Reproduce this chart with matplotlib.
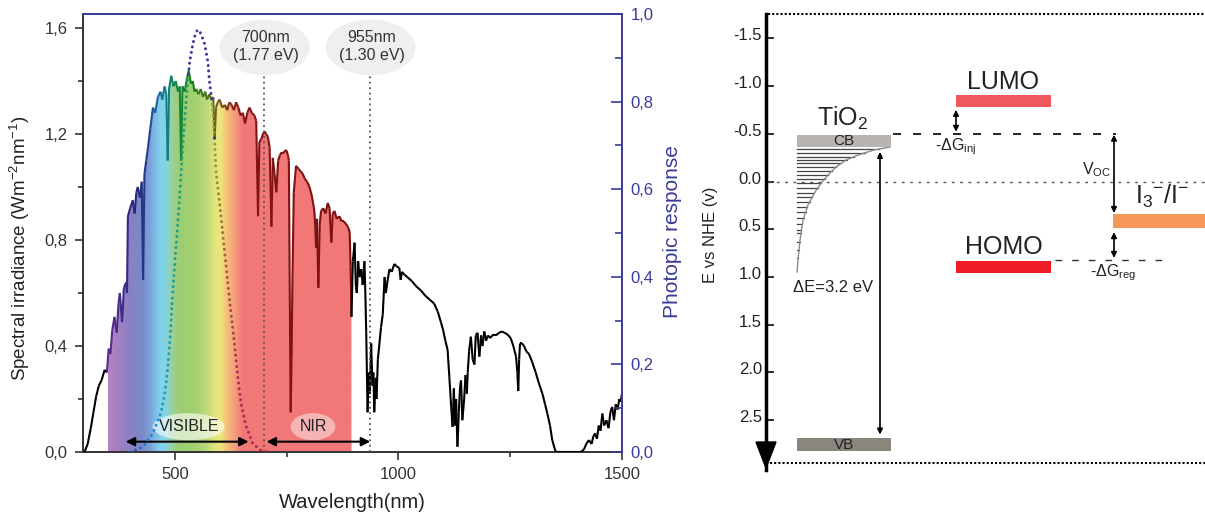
import numpy as np
import matplotlib
matplotlib.use('Agg')
import matplotlib.pyplot as plt
import matplotlib.transforms as mtransforms
from matplotlib.colors import LinearSegmentedColormap
from matplotlib.collections import LineCollection
from matplotlib.patches import Polygon, Ellipse, Rectangle

plt.rcParams['font.family'] = ['Liberation Sans', 'DejaVu Sans']
plt.rcParams['mathtext.default'] = 'regular'

# ---------------- data: solar spectrum (AM1.5) ----------------
wavelength_nm = np.array([
    298, 305, 312, 318, 324, 330, 336, 343, 348, 352,
    356, 360, 365, 370, 374, 377, 382, 386, 391, 393,
    395, 400, 406, 410, 414, 417, 422, 426, 429, 432,
    436, 440, 445, 451, 456, 462, 468, 472, 477, 481,
    484, 487, 492, 497, 502, 507, 511, 514, 517, 522,
    527, 531, 536, 540, 544, 548, 553, 558, 563, 568,
    572, 577, 582, 586, 589, 592, 596, 600, 606, 612,
    617, 622, 627, 632, 637, 642, 647, 652, 657, 662,
    667, 672, 678, 682, 686, 689, 693, 697, 701, 704,
    708, 712, 716, 719, 723, 727, 731, 735, 738, 743,
    749, 753, 755, 757, 759, 761, 763, 766, 771, 776,
    781, 786, 791, 796, 801, 806, 812, 814, 816, 818,
    821, 824, 827, 832, 837, 842, 846, 850, 853, 857,
    862, 868, 873, 878, 883, 887, 891, 893, 895, 898,
    902, 905, 907, 910, 913, 917, 920, 924, 926, 928,
    931, 934, 936, 939, 942, 944, 946, 949, 951, 954,
    957, 961, 965, 969, 972, 976, 980, 985, 991, 996,
    1002, 1005, 1008, 1013, 1020, 1030, 1040, 1050, 1060, 1070,
    1080, 1088, 1095, 1100, 1105, 1110, 1114, 1118, 1121, 1124,
    1126, 1129, 1132, 1135, 1138, 1140, 1143, 1147, 1150, 1153,
    1155, 1158, 1162, 1166, 1170, 1173, 1177, 1181, 1185, 1188,
    1192, 1196, 1200, 1205, 1210, 1218, 1225, 1232, 1237, 1243,
    1251, 1257, 1263, 1266, 1268, 1270, 1272, 1276, 1281, 1286,
    1292, 1299, 1307, 1314, 1322, 1328, 1333, 1339, 1344, 1349,
    1352, 1360, 1380, 1400, 1408, 1415, 1420, 1426, 1432, 1436,
    1440, 1444, 1448, 1452, 1456, 1460, 1465, 1470, 1474, 1478,
    1482, 1486, 1490, 1494, 1497, 1500], dtype=float)

irradiance = np.array([
    0.0, 0.03, 0.09, 0.15, 0.21, 0.25, 0.27, 0.31, 0.30, 0.39,
    0.37, 0.46, 0.51, 0.45, 0.56, 0.60, 0.49, 0.62, 0.64, 0.60,
    0.89, 0.92, 0.95, 0.90, 0.98, 1.00, 0.96, 1.02, 0.65, 1.05,
    1.10, 1.15, 1.22, 1.30, 1.28, 1.34, 1.36, 1.33, 1.38, 1.35,
    1.10, 1.37, 1.42, 1.38, 1.40, 1.36, 1.38, 1.10, 1.38, 1.36,
    1.41, 1.44, 1.39, 1.40, 1.36, 1.37, 1.35, 1.37, 1.34, 1.36,
    1.33, 1.35, 1.33, 1.34, 1.18, 1.30, 1.32, 1.33, 1.30, 1.31,
    1.29, 1.32, 1.31, 1.29, 1.32, 1.30, 1.27, 1.28, 1.24, 1.28,
    1.30, 1.28, 1.27, 1.25, 0.89, 1.17, 1.18, 1.20, 1.21, 1.20,
    1.19, 1.15, 0.85, 1.11, 1.05, 0.98, 1.10, 1.12, 1.13, 1.13,
    1.14, 1.12, 1.10, 0.60, 0.15, 0.35, 0.66, 0.98, 1.08, 1.07,
    1.06, 1.05, 1.03, 1.02, 1.00, 0.97, 0.91, 0.85, 0.77, 0.88,
    0.62, 0.86, 0.91, 0.92, 0.90, 0.94, 0.92, 0.79, 0.90, 0.91,
    0.88, 0.89, 0.87, 0.87, 0.86, 0.85, 0.83, 0.70, 0.51, 0.72,
    0.79, 0.62, 0.60, 0.72, 0.66, 0.69, 0.63, 0.72, 0.60, 0.45,
    0.15, 0.30, 0.22, 0.41, 0.25, 0.30, 0.15, 0.28, 0.20, 0.35,
    0.40, 0.47, 0.52, 0.66, 0.60, 0.65, 0.69, 0.68, 0.71, 0.70,
    0.695, 0.65, 0.68, 0.67, 0.66, 0.645, 0.625, 0.61, 0.59, 0.575,
    0.56, 0.53, 0.49, 0.46, 0.42, 0.385, 0.28, 0.17, 0.095, 0.24,
    0.10, 0.20, 0.02, 0.15, 0.25, 0.27, 0.12, 0.20, 0.29, 0.22,
    0.30, 0.38, 0.435, 0.35, 0.33, 0.44, 0.45, 0.36, 0.44, 0.40,
    0.455, 0.42, 0.44, 0.43, 0.44, 0.44, 0.45, 0.455, 0.45, 0.445,
    0.43, 0.40, 0.36, 0.30, 0.23, 0.35, 0.41, 0.41, 0.40, 0.38,
    0.37, 0.34, 0.30, 0.26, 0.22, 0.18, 0.145, 0.10, 0.045, 0.015,
    0.0, 0.0, 0.0, 0.0, 0.0, 0.01, 0.03, 0.045, 0.03, 0.06,
    0.07, 0.05, 0.10, 0.08, 0.145, 0.10, 0.12, 0.09, 0.15, 0.17,
    0.12, 0.18, 0.16, 0.20, 0.19, 0.22])

# photopic response (right axis)
photopic_wl = np.array([400, 429, 451, 469, 477, 484, 490, 494, 499, 505,
                        510, 514, 518, 525, 533, 540, 546, 551, 556, 562,
                        567, 574, 577, 583, 589, 592, 600, 607, 615, 622,
                        633, 641, 648, 659, 674, 690, 705], dtype=float)
photopic_val = np.array([0.0, 0.012, 0.043, 0.09, 0.13, 0.19, 0.27, 0.345, 0.42, 0.50,
                         0.57, 0.64, 0.70, 0.80, 0.89, 0.93, 0.955, 0.964, 0.96, 0.945,
                         0.93, 0.89, 0.85, 0.80, 0.71, 0.64, 0.57, 0.50, 0.42, 0.35,
                         0.25, 0.17, 0.11, 0.06, 0.02, 0.005, 0.0])

fill_range = (350, 895)
visible_range = (390, 665)
nir_range = (705, 937)
marker_lines = [700, 937]
marker_labels = ["700nm\n(1.77 eV)", "955nm\n(1.30 eV)"]

left_ticks = [0.0, 0.4, 0.8, 1.2, 1.6]
left_ticklabels = ['0,0', '0,4', '0,8', '1,2', '1,6']
right_ticks = [0.0, 0.2, 0.4, 0.6, 0.8, 1.0]
right_ticklabels = ['0,0', '0,2', '0,4', '0,6', '0,8', '1,0']
x_ticks = [500, 1000, 1500]

# ---------------- data: energy diagram ----------------
energy_ticks = [-1.5, -1.0, -0.5, 0.0, 0.5, 1.0, 1.5, 2.0, 2.5]
energy_ticklabels = ['-1.5', '-1.0', '-0.5', '0.0', '0.5', '1.0', '1.5', '2.0', '2.5']
cb_level = (-0.49, -0.36)
vb_level = (2.686, 2.822)
lumo_level = (-0.906, -0.780)
homo_level = (0.832, 0.958)
redox_level = (0.34, 0.487)
trap_levels = [-0.34, -0.30, -0.26, -0.23, -0.19, -0.15, -0.11, -0.07, -0.03, 0.015,
               0.07, 0.12, 0.16, 0.21, 0.27, 0.32, 0.38, 0.44, 0.51, 0.54,
               0.63, 0.72, 0.80, 0.90]
dos_curve_E = [-0.361, -0.330, -0.277, -0.225, -0.152, -0.068, 0.005, 0.110, 0.246, 0.403, 0.613, 0.822, 0.948]
dos_curve_x = [124, 108, 92, 80, 70, 62, 56, 49, 42, 37, 34, 32, 31]

BLUE = '#3a3a98'

fig = plt.figure(figsize=(12.05, 5.19), dpi=100)

# ======================= LEFT PANEL =======================
ax = fig.add_axes([83/1205, 67/519, 539/1205, 438/519])
ax2 = ax.twinx()
XL = (294.6, 1500)
YL = (0, 1.653)
ax.set_xlim(*XL)
ax.set_ylim(*YL)
ax2.set_ylim(0, 1.0)

# colored fill
fill_stops = [(350, '#b584c4'), (375, '#a07fc2'), (395, '#8a80c4'), (425, '#7b88c8'),
              (445, '#7ea4dc'), (465, '#7ed2f0'), (480, '#84d4dc'), (495, '#9ccf90'),
              (510, '#9ccd73'), (545, '#a4d070'), (570, '#bcd87a'), (590, '#e4e67c'),
              (603, '#ece57a'), (615, '#f5c07a'), (632, '#f5a07a'), (650, '#f27878'),
              (895, '#f27878')]
span = fill_range[1] - fill_range[0]
cmap_fill = LinearSegmentedColormap.from_list(
    'fill', [((l - fill_range[0]) / span, c) for l, c in fill_stops])
grad = cmap_fill(np.linspace(0, 1, 800))[None, :, :]
im = ax.imshow(grad, extent=(fill_range[0], fill_range[1], 0, 1.65), aspect='auto',
               origin='lower', zorder=1, interpolation='bilinear')
sel = (wavelength_nm >= fill_range[0]) & (wavelength_nm <= fill_range[1])
verts = ([(fill_range[0], 0), (fill_range[0], np.interp(fill_range[0], wavelength_nm, irradiance))]
         + list(zip(wavelength_nm[sel], irradiance[sel]))
         + [(fill_range[1], np.interp(fill_range[1], wavelength_nm, irradiance)), (fill_range[1], 0)])
poly = Polygon(verts, closed=True, fc='none', ec='none')
ax.add_patch(poly)
im.set_clip_path(poly)
ax.set_xlim(*XL)
ax.set_ylim(*YL)

# spectrum line colored by wavelength
line_stops = [(350, '#5b2d8e'), (385, '#3b2a86'), (415, '#23277a'), (445, '#1e4a96'),
              (465, '#1b6fa5'), (485, '#137f7c'), (500, '#138a3e'), (540, '#1a7d22'),
              (570, '#4f7420'), (595, '#7a5d1a'), (620, '#7d3418'), (645, '#851515'),
              (895, '#7a1010')]
cmap_line = LinearSegmentedColormap.from_list(
    'line', [((l - fill_range[0]) / span, c) for l, c in line_stops])
pts = np.column_stack([wavelength_nm, irradiance])
segs = np.stack([pts[:-1], pts[1:]], axis=1)
mids = 0.5 * (wavelength_nm[:-1] + wavelength_nm[1:])
cols = [cmap_line((m - fill_range[0]) / span) if fill_range[0] <= m <= fill_range[1] else (0, 0, 0, 1)
        for m in mids]
ax.add_collection(LineCollection(segs, colors=cols, linewidths=1.5, zorder=3))

# vertical dotted markers and bubbles
for xm in marker_lines:
    ax.plot([xm, xm], [0, 1.423], ls=(0, (1, 2)), color='#555555', lw=1.3, zorder=3)
for xm, lab in zip(marker_lines, marker_labels):
    ax.add_patch(Ellipse((xm + 1, 1.527), 201, 0.21, fc='#efefef', ec='none', zorder=2))
    ax.text(xm + 3, 1.53, lab, ha='center', va='center', fontsize=11.5, color='#333333',
            linespacing=1.3, zorder=4)

# photopic dotted curve (dots)
lam_d = np.linspace(photopic_wl[0], photopic_wl[-1], 4000)
v_d = np.interp(lam_d, photopic_wl, photopic_val)
disp = ax2.transData.transform(np.column_stack([lam_d, v_d]))
arc = np.concatenate([[0], np.cumsum(np.hypot(np.diff(disp[:, 0]), np.diff(disp[:, 1])))])
idx = np.searchsorted(arc, np.arange(0, arc[-1], 5.6))
idx = np.clip(idx, 0, len(lam_d) - 1)
dot_stops = [(400, '#3050c0'), (460, '#2a90c8'), (490, '#20a0a0'), (520, '#20a070'),
             (560, '#50a040'), (585, '#a0a040'), (610, '#b06040'), (640, '#a83058'),
             (705, '#a02850')]
cmap_dot = LinearSegmentedColormap.from_list(
    'dot', [((l - 400) / 305, c) for l, c in dot_stops])
dot_cols = []
for i in idx:
    lam, v = lam_d[i], v_d[i]
    s = np.interp(lam, wavelength_nm, irradiance)
    if v * YL[1] > s - 0.02:
        dot_cols.append(BLUE)
    else:
        dot_cols.append(cmap_dot((lam - 400) / 305))
ax2.scatter(lam_d[idx], v_d[idx], s=4.5, c=dot_cols, linewidths=0, zorder=5)

# VISIBLE / NIR arrows and labels
ya = 0.039
for (x0, x1) in (visible_range, nir_range):
    ax.annotate('', xy=(x1, ya), xytext=(x0, ya),
                arrowprops=dict(arrowstyle='<|-|>', color='black', lw=1.5,
                                mutation_scale=13, shrinkA=0, shrinkB=0), zorder=5)
ax.add_patch(Ellipse((531, 0.0955), 161, 0.102, fc=(1, 1, 1, 0.6), ec='none', zorder=4))
ax.text(531, 0.0955, 'VISIBLE', ha='center', va='center', fontsize=11.5, color='#222222', zorder=5)
ax.add_patch(Ellipse((809, 0.0955), 100, 0.102, fc=(1, 1, 1, 0.45), ec='none', zorder=4))
ax.text(809, 0.0955, 'NIR', ha='center', va='center', fontsize=11.5, color='#222222', zorder=5)

# axes styling
ax.set_xticks(x_ticks)
ax.set_xticklabels([str(t) for t in x_ticks])
ax.set_xticks([750, 1250], minor=True)
ax.set_yticks(left_ticks)
ax.set_yticklabels(left_ticklabels)
ax.set_yticks([0.2, 0.6, 1.0, 1.4], minor=True)
ax.tick_params(axis='both', which='major', direction='out', length=6, width=1.2,
               labelsize=12, colors='#333333', pad=5)
ax.tick_params(axis='both', which='minor', direction='out', length=3.5, width=1.2, colors='#333333')
ax2.set_yticks(right_ticks)
ax2.set_yticklabels(right_ticklabels)
ax2.set_yticks([0.1, 0.3, 0.5, 0.7, 0.9], minor=True)
ax2.tick_params(axis='y', which='major', direction='in', length=8, width=1.2,
                labelsize=12, colors=BLUE, pad=6)
ax2.tick_params(axis='y', which='minor', direction='in', length=5, width=1.2, colors=BLUE)
for s in ('left', 'bottom'):
    ax.spines[s].set_color('#333333')
    ax.spines[s].set_linewidth(1.4)
    ax2.spines[s].set_visible(False)
ax.spines['right'].set_visible(False)
ax.spines['top'].set_visible(False)
ax2.spines['right'].set_color(BLUE)
ax2.spines['right'].set_linewidth(1.4)
ax2.spines['top'].set_color(BLUE)
ax2.spines['top'].set_linewidth(1.4)

fig.text(352.5/1205, 1 - 503/519, 'Wavelength(nm)', ha='center', va='center', fontsize=14.5, color='#222222')
fig.text(20/1205, 1 - 248/519, 'Spectral irradiance (Wm$^{-2}$nm$^{-1}$)', ha='center', va='center',
         rotation=90, fontsize=13.5, color='#222222')
fig.text(672/1205, 1 - 232/519, 'Photopic response', ha='center', va='center',
         rotation=90, fontsize=15, color=BLUE)

# ======================= RIGHT PANEL =======================
ax3 = fig.add_axes([766/1205, 49/519, 439/1205, 456/519])
ax3.set_xlim(0, 439)
ax3.set_ylim(3.021, -1.754)
for s in ('top', 'right', 'bottom'):
    ax3.spines[s].set_visible(False)
ax3.spines['left'].set_linewidth(2.5)
ax3.spines['left'].set_color('black')
ax3.set_xticks([])
ax3.set_yticks(energy_ticks)
ax3.set_yticklabels(energy_ticklabels)
ax3.tick_params(axis='y', direction='in', length=6, width=1.3, labelsize=12,
                colors='#222222', pad=3)
off = mtransforms.ScaledTranslation(0, 4 / 100, fig.dpi_scale_trans)
for lbl in ax3.get_yticklabels():
    lbl.set_transform(lbl.get_transform() + off)

# arrow head at bottom of energy axis
ax3.add_patch(Polygon([(-10, 2.728), (10, 2.728), (0, 3.0)], closed=True,
                      fc='black', ec='black', clip_on=False, zorder=5))

# reference lines
ax3.plot([2, 439], [-1.754, -1.754], ls=(0, (1, 1)), color='black', lw=1.5, clip_on=False)
ax3.plot([4, 439], [2.948, 2.948], ls=(0, (1, 1)), color='black', lw=1.5, clip_on=False)
ax3.plot([2, 439], [0.0, 0.0], ls=(0, (2, 4)), color='#555555', lw=1.0)

# bars
ax3.add_patch(Rectangle((31, cb_level[0]), 94, cb_level[1] - cb_level[0], fc='#b8b5b0', ec='none', zorder=3))
ax3.add_patch(Rectangle((31, vb_level[0]), 94, vb_level[1] - vb_level[0], fc='#8a867e', ec='none', zorder=3))
ax3.add_patch(Rectangle((190, lumo_level[0]), 95, lumo_level[1] - lumo_level[0], fc='#f0585e', ec='none', zorder=3))
ax3.add_patch(Rectangle((190, homo_level[0]), 95, homo_level[1] - homo_level[0], fc='#ee1c24', ec='none', zorder=3))
ax3.add_patch(Rectangle((347, redox_level[0]), 92, redox_level[1] - redox_level[0], fc='#f7985a', ec='none',
                        zorder=3, clip_on=False))
ax3.text(78, np.mean(cb_level), 'CB', ha='center', va='center', fontsize=11, color='#222222', zorder=4)
ax3.text(78, np.mean(vb_level), 'VB', ha='center', va='center', fontsize=11, color='#222222', zorder=4)

# trap states
for t in trap_levels:
    xe = np.interp(t, dos_curve_E, dos_curve_x)
    ax3.plot([31, xe], [t, t], color='#444444', lw=0.9, zorder=2)
ax3.plot(dos_curve_x, dos_curve_E, color='#8a8a8a', lw=1.0, zorder=2)

# dashed level lines
ax3.plot([127, 350], [-0.497, -0.497], ls=(0, (4.8, 7.2)), color='black', lw=1.2)
ax3.plot([289, 397], [0.822, 0.822], ls=(0, (4.8, 7.2)), color='#333333', lw=1.0)

# arrows
def darrow(x, y0, y1, lw=1.2, ms=8):
    ax3.annotate('', xy=(x, y1), xytext=(x, y0),
                 arrowprops=dict(arrowstyle='<|-|>', color='black', lw=lw,
                                 mutation_scale=ms, shrinkA=0, shrinkB=0))

darrow(114, -0.31, 2.65)
darrow(190, -0.52, -0.75)
darrow(348, -0.49, 0.33)
darrow(348, 0.53, 0.80)

# labels
ax3.text(77, -0.665, 'TiO$_2$', ha='center', va='center', fontsize=18, color='#222222')
ax3.text(237.5, -1.045, 'LUMO', ha='center', va='center', fontsize=18, color='#222222')
ax3.text(237.5, 0.686, 'HOMO', ha='center', va='center', fontsize=18, color='#222222')
ax3.text(396, 0.16, 'I$_3$$^{-}$/I$^{-}$', ha='center', va='center', fontsize=18, color='#222222')
ax3.text(67, 1.105, '\u0394E=3.2 eV', ha='center', va='center', fontsize=12, color='#222222')
ax3.text(190, -0.36, '-\u0394G$_{inj}$', ha='center', va='center', fontsize=11.5, color='#222222')
ax3.text(331, -0.12, 'V$_{OC}$', ha='center', va='center', fontsize=11.5, color='#222222')
ax3.text(347.5, 0.958, '-\u0394G$_{reg}$', ha='center', va='center', fontsize=11.5, color='#222222')
ax3.text(-56, 0.56, 'E vs NHE (v)', ha='center', va='center', rotation=90, fontsize=12,
         color='#222222', clip_on=False)

fig.savefig('out.png', dpi=100)
